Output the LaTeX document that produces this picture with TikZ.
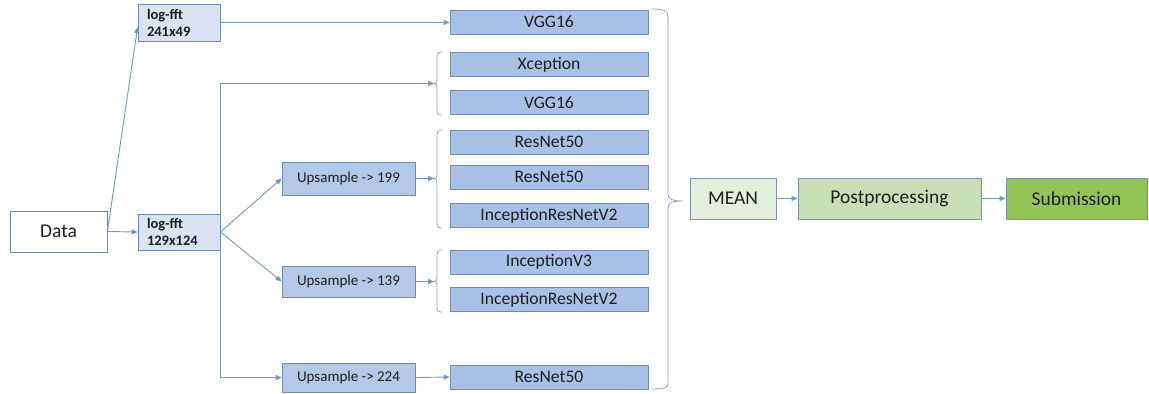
\documentclass[tikz,border=0pt]{standalone}
\usepackage{fontspec}
\setmainfont{Carlito}
\usetikzlibrary{arrows.meta,calc}
\definecolor{linec}{HTML}{7096CC}
\definecolor{bordc}{HTML}{6E8AB8}
\definecolor{modelc}{HTML}{A9C1E6}
\definecolor{upc}{HTML}{B4C8E8}
\definecolor{lfc}{HTML}{DAE3F3}
\definecolor{meanc}{HTML}{E3EFDA}
\definecolor{postc}{HTML}{C8E0B5}
\definecolor{subc}{HTML}{92C556}
\definecolor{greenbord}{HTML}{7F93B0}
\definecolor{textc}{HTML}{1E1E1E}
\begin{document}
\begin{tikzpicture}[x=1bp,y=-1bp,
  box/.style={draw=bordc, line width=0.8bp, inner sep=0pt, text=textc},
  model/.style={box, fill=modelc, minimum width=198bp, minimum height=24bp, font=\fontsize{17.6bp}{18bp}\selectfont},
  upbox/.style={box, fill=upc, minimum width=133bp, font=\fontsize{15bp}{16bp}\selectfont},
  lfbox/.style={box, fill=lfc, minimum width=82bp, text width=64bp, align=left, font=\bfseries\fontsize{14.5bp}{17bp}\selectfont},
  gbox/.style={box, draw=greenbord, minimum height=41bp, font=\fontsize{19.5bp}{20bp}\selectfont},
  conn/.style={draw=linec, line width=0.9bp},
  arr/.style={conn, -{Triangle[length=6bp,width=5bp]}},
  brace/.style={draw=bordc!80, line width=0.8bp}
]
\useasboundingbox (0,0) rectangle (1149,393);

% input and log-fft
\node[box, fill=white, minimum width=97bp, minimum height=41bp, font=\fontsize{19.5bp}{20bp}\selectfont] (data) at (58.5,231.5) {Data};
\node[lfbox, minimum height=37bp] (lf1) at (179,22.5) {log-fft\\241x49};
\node[lfbox, minimum height=36bp] (lf2) at (179,232) {log-fft\\129x124};

% upsample
\node[upbox, minimum height=33bp] (up199) at (348.5,178.5) {Upsample -> 199};
\node[upbox, minimum height=31bp] (up139) at (348.5,281.5) {Upsample -> 139};
\node[upbox, minimum height=29bp] (up224) at (348.5,377.5) {Upsample -> 224};

% models
\node[model] (vgg1) at (549,22) {VGG16};
\node[model] (xc) at (549,64.5) {Xception};
\node[model] (vgg2) at (549,102.5) {VGG16};
\node[model] (r1) at (549,142) {ResNet50};
\node[model] (r2) at (549,177) {ResNet50};
\node[model] (irv1) at (549,215.5) {InceptionResNetV2};
\node[model] (iv3) at (549,262) {InceptionV3};
\node[model] (irv2) at (549,299.5) {InceptionResNetV2};
\node[model] (r3) at (549,377) {ResNet50};

% final chain
\node[gbox, fill=meanc, minimum width=86bp] (mean) at (733,198.5) {MEAN};
\node[gbox, fill=postc, minimum width=183bp] (post) at (889.5,198.5) {Postprocessing};
\node[gbox, fill=subc, minimum width=141bp] (sub) at (1076.5,198.5) {Submission};

% small brackets
\coordinate (b1) at (434,83.5);
\coordinate (b2) at (434,178.5);
\coordinate (b3) at (434,281.5);
\draw[brace] (442,52) .. controls (438,52) and (437,54) .. (437,57) -- (437,80) .. controls (437,82) and (436,83.5) .. (b1) .. controls (436,83.5) and (437,85) .. (437,87) -- (437,111) .. controls (437,114) and (438,115) .. (442,115);
\draw[brace] (442,130) .. controls (438,130) and (437,132) .. (437,135) -- (437,175) .. controls (437,177) and (436,178.5) .. (b2) .. controls (436,178.5) and (437,180) .. (437,182) -- (437,224) .. controls (437,227) and (438,228) .. (442,228);
\draw[brace] (442,250) .. controls (438,250) and (437,252) .. (437,255) -- (437,278) .. controls (437,280) and (436,281.5) .. (b3) .. controls (436,281.5) and (437,283) .. (437,285) -- (437,308) .. controls (437,311) and (438,312) .. (442,312);

% big brace
\coordinate (bt) at (683,201);
\draw[brace] (652,9) .. controls (664,9) and (668,11) .. (668,17) -- (668,194) .. controls (668,199) and (672,201) .. (bt) .. controls (672,201) and (668,203) .. (668,208) -- (668,383) .. controls (668,388) and (664,389) .. (652,389);

% connectors
\draw[arr] (data.east) -- ($(lf1.west)+(0,4.5)$);
\draw[arr] (data.east) -- (lf2.west);
\draw[arr] (lf1.east) -- (lf1.east -| vgg1.west);
\draw[arr] (lf2.north east) -- (lf2.north east |- b1) -- (b1);
\draw[arr] (lf2.south east) |- (up224.west);
\draw[arr] (lf2.east) -- (up199.west);
\draw[arr] (lf2.east) -- (up139.west);
\draw[arr] (up199.east) -- (b2);
\draw[arr] (up139.east) -- (b3);
\draw[arr] (up224.east) -- (r3.west);
\draw[arr] (mean.east) -- (post.west);
\draw[arr] (post.east) -- (sub.west);
\end{tikzpicture}
\end{document}
